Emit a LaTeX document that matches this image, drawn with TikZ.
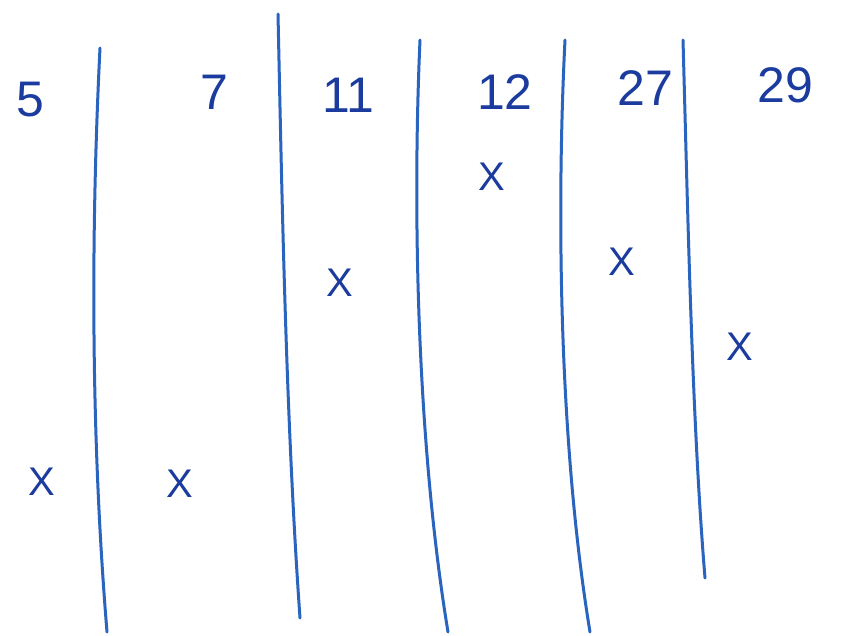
\documentclass[tikz,border=0pt]{standalone}
\usepackage{fontspec}
\setmainfont{Liberation Sans}
\usepackage{xcolor}
\usepackage{tikz}
\usetikzlibrary{positioning}
\definecolor{inkblue}{HTML}{1B3C9E}
\definecolor{penblue}{HTML}{2A64BE}

\tikzset{
  bar/.style={penblue,line width=3pt,line cap=round},
  slotlabel/.style={text=inkblue,font=\fontsize{50}{54}\selectfont,inner sep=0pt},
  cross/.style={text=inkblue,font=\fontsize{40}{44}\selectfont,inner sep=0pt}
}

\begin{document}
\begin{tikzpicture}[x=1pt,y=-1pt]
  \useasboundingbox[fill=white] (0,0) rectangle (843,635);

  % Dividers
  \draw[bar] (100,48) .. controls (90,250) and (92,450) .. (107,632);
  \draw[bar] (278,14) .. controls (282,200) and (286,420) .. (300,618);
  \draw[bar] (420,40) .. controls (412,220) and (418,450) .. (448,632);
  \draw[bar] (565,40) .. controls (556,220) and (560,450) .. (590,632);
  \draw[bar] (683,40) .. controls (688,220) and (692,420) .. (705,578);

  % Slot labels
  \node[slotlabel] (five)       at (30,100) {5};
  \node[slotlabel] (seven)      at (214,92) {7};
  \node[slotlabel] (eleven)     at (348,95) {11};
  \node[slotlabel] (twelve)     at (505,92) {12};
  \node[slotlabel] (twentyseven) at (645,88) {27};
  \node[slotlabel] (twentynine) at (785,85) {29};

  % Marks
  \node[cross] (xfive)        at (42,482)  {X};
  \node[cross] (xseven)       at (180,484) {X};
  \node[cross] (xeleven)      at (340,283) {X};
  \node[cross] (xtwelve)      at (492,177) {X};
  \node[cross] (xtwentyseven) at (622,262) {X};
  \node[cross] (xtwentynine)  at (740,347) {X};
\end{tikzpicture}
\end{document}
